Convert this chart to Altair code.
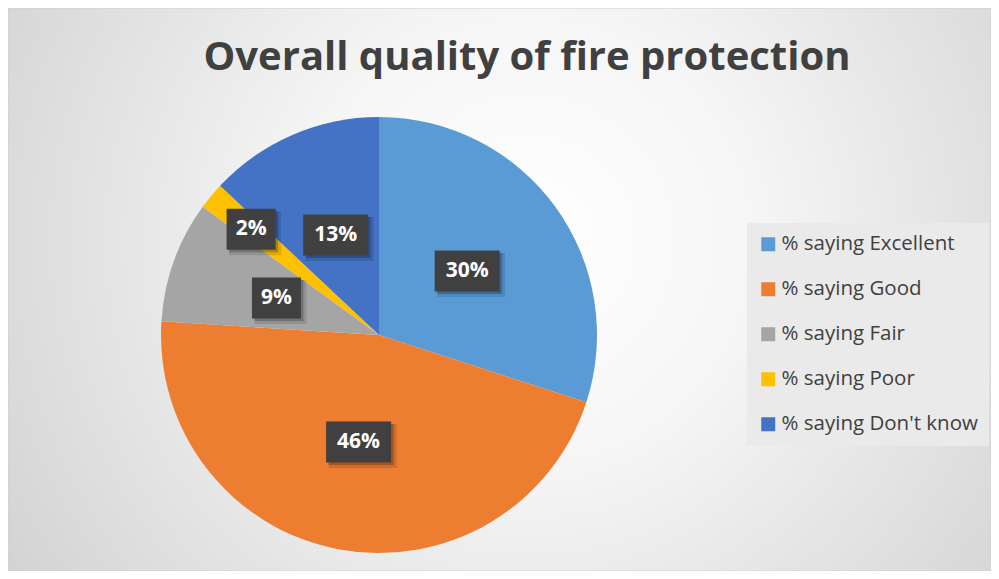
import math
import altair as alt
import pandas as pd

# ---- data ----
categories = ["% saying Excellent", "% saying Good", "% saying Fair",
              "% saying Poor", "% saying Don't know"]
values = [30, 46, 9, 2, 13]
labels = ["30%", "46%", "9%", "2%", "13%"]
colors = ["#5B9BD5", "#ED7D31", "#A5A5A5", "#FFC000", "#4472C4"]
TITLE = "Overall quality of fire protection"

df = pd.DataFrame({
    "category": categories,
    "value": values,
    "label": labels,
    "order": list(range(len(categories))),
})
df["box"] = ["wide" if len(s) > 2 else "narrow" for s in labels]

# ---- layout / style ----
W, H = 983, 563
CX, CY, R = 371, 327, 218
INNER_LR, OUTER_LR = 109, 166
TEXT = "#404040"
BOX_SIDE = 65.0  # symbol scale: path unit = BOX_SIDE/2 px


def box_path(w, h, off=0.0, grow=0.0):
    u = BOX_SIDE / 2.0
    hw, hh, o, g = w / 2.0 / u, h / 2.0 / u, off / u, grow / u
    x0, x1 = -hw - g + o, hw + g + o
    y0, y1 = -hh - g + o, hh + g + o
    return f"M{x0:.4f},{y0:.4f}L{x1:.4f},{y0:.4f}L{x1:.4f},{y1:.4f}L{x0:.4f},{y1:.4f}Z"


theta_scale = alt.Scale(domain=[0, 100], range=[0, 2 * math.pi])
x_scale = alt.Scale(domain=[-CX, W - CX], range=[0, W])
y_scale = alt.Scale(domain=[-CY, H - CY], range=[0, H])

base = alt.Chart(df).transform_window(
    end="sum(value)", sort=[alt.SortField("order")], frame=[None, 0]
).transform_calculate(
    start="datum.end - datum.value",
    mid="datum.end - datum.value / 2",
).transform_calculate(
    lr=f"datum.value < 5 ? {OUTER_LR} : {INNER_LR}",
    ang="datum.mid / 100 * 2 * PI",
).transform_calculate(
    px="datum.lr * sin(datum.ang)",
    py="-datum.lr * cos(datum.ang)",
)

bg = alt.Chart(alt.Data(values=[{}])).mark_rect(
    fill=alt.Gradient(
        gradient="radial",
        stops=[alt.GradientStop(offset=0, color="#ffffff"),
               alt.GradientStop(offset=0.3, color="#f6f6f6"),
               alt.GradientStop(offset=1, color="#c8c8c8")],
        x1=0.53, y1=0.45, r1=0, x2=0.53, y2=0.45, r2=0.75,
    ),
    stroke="#d0d0d0", strokeWidth=1,
).encode(x=alt.value(0), x2=alt.value(W), y=alt.value(0), y2=alt.value(H))

title = alt.Chart(alt.Data(values=[{}])).mark_text(
    text=TITLE, font="Open Sans", fontSize=40, fontWeight="bold",
    color=TEXT, align="center", baseline="alphabetic",
).encode(x=alt.value(519), y=alt.value(62))

pie = base.mark_arc(radius=R, x=CX, y=CY).encode(
    theta=alt.Theta("start:Q", scale=theta_scale),
    theta2="end:Q",
    color=alt.Color(
        "category:N",
        scale=alt.Scale(domain=categories, range=colors),
        legend=alt.Legend(
            title=None, orient="none", legendX=739, legendY=215,
            fillColor="#eaeaea", padding=11, symbolType="square",
            symbolSize=196, symbolStrokeWidth=0, symbolOpacity=1,
            labelFont="Open Sans", labelFontSize=20.5, labelColor=TEXT,
            labelOffset=3, rowPadding=24, labelLimit=400,
        ),
    ),
    order=alt.Order("order:Q"),
)

pos = dict(
    x=alt.X("px:Q", scale=x_scale, axis=None),
    y=alt.Y("py:Q", scale=y_scale, axis=None),
)


def boxes(color, opacity, off=0.0, grow=0.0):
    return base.mark_point(
        filled=True, size=BOX_SIDE ** 2, opacity=opacity, color=color,
        strokeWidth=0,
    ).encode(
        shape=alt.Shape(
            "box:N",
            scale=alt.Scale(domain=["wide", "narrow"],
                            range=[box_path(65, 41, off, grow),
                                   box_path(49, 41, off, grow)]),
            legend=None,
        ),
        **pos,
    )


shadow1 = boxes("#000000", 0.12, off=4, grow=1.5)
shadow2 = boxes("#000000", 0.22, off=2.5, grow=0)
label_boxes = boxes("#404040", 1.0)

texts = base.mark_text(
    font="Open Sans", fontSize=21, fontWeight="bold", color="white",
    align="center", baseline="middle",
).encode(text="label:N", **pos)

chart = alt.layer(
    bg, title, pie, shadow1, shadow2, label_boxes, texts
).resolve_scale(shape="independent").properties(
    width=W, height=H, padding=0, autosize=alt.AutoSizeParams(type="none"),
).configure_view(strokeWidth=0).configure(background="white")

chart.save("out.html", embed_options={"renderer": "svg", "actions": False})
